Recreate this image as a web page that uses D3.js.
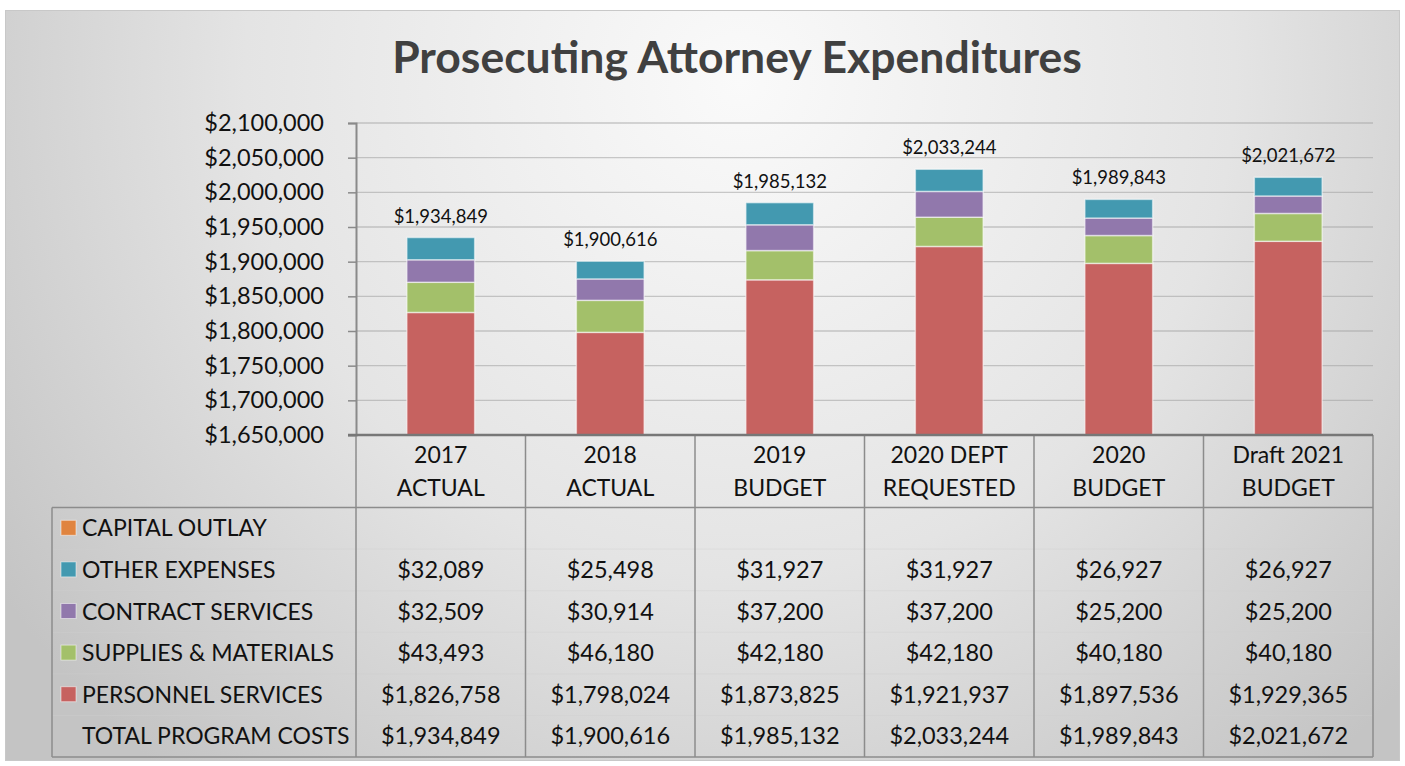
<!DOCTYPE html>
<html>
<head>
<meta charset="utf-8">
<script src="https://cdn.jsdelivr.net/npm/d3@7"></script>
<style>
  body { margin: 0; background: #fff; }
  svg text { font-family: Lato, "Open Sans", sans-serif; fill: #111; }
</style>
</head>
<body>
<div id="chart"></div>
<script>
// --- data ---
var categories = ["2017|ACTUAL", "2018|ACTUAL", "2019|BUDGET", "2020 DEPT|REQUESTED", "2020|BUDGET", "Draft 2021|BUDGET"];
var personnel = [1826758, 1798024, 1873825, 1921937, 1897536, 1929365];
var supplies  = [43493, 46180, 42180, 42180, 40180, 40180];
var contract  = [32509, 30914, 37200, 37200, 25200, 25200];
var other     = [32089, 25498, 31927, 31927, 26927, 26927];
var capital   = [null, null, null, null, null, null];
var totals    = [1934849, 1900616, 1985132, 2033244, 1989843, 2021672];
var yTicks    = [1650000, 1700000, 1750000, 1800000, 1850000, 1900000, 1950000, 2000000, 2050000, 2100000];

var seriesNames  = ["CAPITAL OUTLAY", "OTHER EXPENSES", "CONTRACT SERVICES", "SUPPLIES & MATERIALS", "PERSONNEL SERVICES"];
var seriesColors = ["#E0843F", "#4399B0", "#9178AC", "#A3C06A", "#C66260"];

var W = 1405, H = 766;
var plot = {left: 356, right: 1373, top: 123, bottom: 435};
var legendLeft = 52, rowH = 41.6, headerBottom = 507.5;

var svg = d3.select("#chart").append("svg")
  .attr("width", W).attr("height", H);

// background gradient
var defs = svg.append("defs");
var grad = defs.append("radialGradient").attr("id", "bg")
  .attr("gradientUnits", "userSpaceOnUse")
  .attr("cx", 740).attr("cy", 80).attr("r", 900);
grad.append("stop").attr("offset", "0%").attr("stop-color", "#fafafa");
grad.append("stop").attr("offset", "55%").attr("stop-color", "#e4e4e4");
grad.append("stop").attr("offset", "100%").attr("stop-color", "#c4c4c4");

svg.append("rect").attr("x", 5.5).attr("y", 10.5).attr("width", 1394).attr("height", 750)
  .attr("fill", "url(#bg)").attr("stroke", "#c8c8c8");

svg.append("text").attr("x", 737).attr("y", 73)
  .attr("text-anchor", "middle")
  .style("font-size", "44.5px").style("font-weight", "bold").style("fill", "#404040")
  .text("Prosecuting Attorney Expenditures");

// scales
var x = d3.scaleBand().domain(d3.range(categories.length))
  .range([plot.left, plot.right]).paddingInner(0).paddingOuter(0);
var y = d3.scaleLinear().domain([1650000, 2100000]).range([plot.bottom, plot.top]).clamp(true);

// gridlines
svg.append("g").selectAll("line").data(yTicks.slice(1)).join("line")
  .attr("x1", plot.left).attr("x2", plot.right)
  .attr("y1", function (d) { return y(d); }).attr("y2", function (d) { return y(d); })
  .attr("stroke", "#a0a0a0").attr("stroke-opacity", 0.55).attr("stroke-width", 1.3);

// y axis
var fmt = d3.format("$,");
var yAxis = svg.append("g").attr("transform", "translate(" + plot.left + ",0)")
  .call(d3.axisLeft(y).tickValues(yTicks).tickSize(8).tickPadding(24).tickFormat(fmt));
yAxis.select(".domain").attr("stroke", "#8a8a8a").attr("stroke-width", 2);
yAxis.selectAll(".tick line").attr("stroke", "#8a8a8a").attr("stroke-width", 1.5);
yAxis.selectAll(".tick text").style("font-size", "23.5px").style("font-family", "Lato, sans-serif").attr("fill", "#111");

// stacked bars
var rows = categories.map(function (c, i) {
  return {i: i, personnel: personnel[i], supplies: supplies[i], contract: contract[i], other: other[i]};
});
var keys = ["personnel", "supplies", "contract", "other"];
var keyColor = {personnel: seriesColors[4], supplies: seriesColors[3], contract: seriesColors[2], other: seriesColors[1]};
var stacked = d3.stack().keys(keys)(rows);
var barW = x.bandwidth() * 0.4;

svg.append("g").selectAll("g").data(stacked).join("g")
  .attr("fill", function (s) { return keyColor[s.key]; })
  .selectAll("rect").data(function (s) { return s; }).join("rect")
    .attr("x", function (d) { return x(d.data.i) + (x.bandwidth() - barW) / 2; })
    .attr("width", barW)
    .attr("y", function (d) { return y(d[1]); })
    .attr("height", function (d) { return y(d[0]) - y(d[1]); })
    .attr("stroke", "#ffffff").attr("stroke-opacity", 0.55).attr("stroke-width", 1.5);

// total labels
svg.append("g").selectAll("text").data(totals).join("text")
  .attr("x", function (d, i) { return x(i) + x.bandwidth() / 2; })
  .attr("y", function (d) { return y(d) - 15; })
  .attr("text-anchor", "middle").style("font-size", "18.5px")
  .text(function (d) { return fmt(d); });

// --- data table ---
var tableRows = [capital, other, contract, supplies, personnel, totals];
var rowLabels = seriesNames.concat(["TOTAL PROGRAM COSTS"]);
var tableBottom = headerBottom + rowH * tableRows.length;
var tbl = svg.append("g");
var lineColor = "#8c8c8c";

// header cells text
var head = tbl.selectAll("g.head").data(categories).join("g").attr("class", "head");
head.append("text").attr("x", function (d, i) { return x(i) + x.bandwidth() / 2; })
  .attr("y", 463).attr("text-anchor", "middle").style("font-size", "23px")
  .text(function (d) { return d.split("|")[0]; });
head.append("text").attr("x", function (d, i) { return x(i) + x.bandwidth() / 2; })
  .attr("y", 496).attr("text-anchor", "middle").style("font-size", "23px")
  .text(function (d) { return d.split("|")[1]; });

// faint row separators
tbl.selectAll("line.sep").data(d3.range(1, tableRows.length)).join("line").attr("class", "sep")
  .attr("x1", legendLeft).attr("x2", plot.right)
  .attr("y1", function (r) { return headerBottom + r * rowH; })
  .attr("y2", function (r) { return headerBottom + r * rowH; })
  .attr("stroke", "#d0d0d0").attr("stroke-opacity", 0.4);

// legend + values
tableRows.forEach(function (vals, r) {
  var cy = headerBottom + rowH * (r + 0.5);
  if (r < seriesColors.length) {
    tbl.append("rect").attr("x", 61).attr("y", cy - 8).attr("width", 15).attr("height", 15)
      .attr("fill", seriesColors[r]).attr("stroke", "#fff").attr("stroke-opacity", 0.5);
  }
  tbl.append("text").attr("x", 82).attr("y", cy + 8).style("font-size", "23px").text(rowLabels[r]);
  tbl.selectAll(null).data(vals).join("text")
    .attr("x", function (d, i) { return x(i) + x.bandwidth() / 2; })
    .attr("y", cy + 8).attr("text-anchor", "middle").style("font-size", "23.5px")
    .text(function (d) { return d == null ? "" : fmt(d); });
});

// grid borders
tbl.selectAll("line.v").data(d3.range(categories.length + 1)).join("line").attr("class", "v")
  .attr("x1", function (i) { return i < categories.length ? x(i) : plot.right; })
  .attr("x2", function (i) { return i < categories.length ? x(i) : plot.right; })
  .attr("y1", plot.bottom).attr("y2", tableBottom)
  .attr("stroke", lineColor).attr("stroke-width", 1.5);
tbl.append("line").attr("x1", legendLeft).attr("x2", plot.right)
  .attr("y1", headerBottom).attr("y2", headerBottom).attr("stroke", lineColor).attr("stroke-width", 1.5);
tbl.append("line").attr("x1", legendLeft).attr("x2", plot.right)
  .attr("y1", tableBottom).attr("y2", tableBottom).attr("stroke", lineColor).attr("stroke-width", 1.5);
tbl.append("line").attr("x1", legendLeft).attr("x2", legendLeft)
  .attr("y1", headerBottom).attr("y2", tableBottom).attr("stroke", lineColor).attr("stroke-width", 1.5);
// x axis line
tbl.append("line").attr("x1", plot.left - 8).attr("x2", plot.right)
  .attr("y1", plot.bottom).attr("y2", plot.bottom).attr("stroke", "#777").attr("stroke-width", 2.5);
</script>
</body>
</html>
